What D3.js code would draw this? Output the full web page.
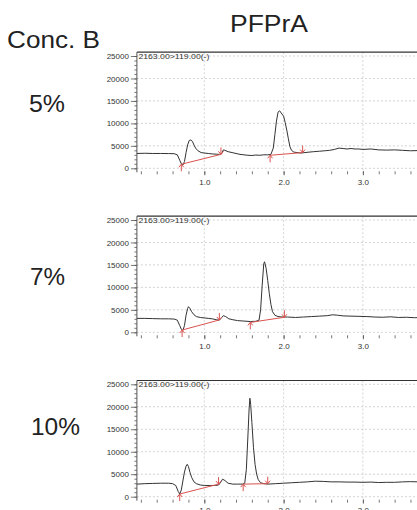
<!DOCTYPE html>
<html>
<head>
<meta charset="utf-8">
<script src="https://cdn.jsdelivr.net/npm/d3@7"></script>
<style>
  body { margin: 0; background: #fff; }
  svg { display: block; }
  text { font-family: "Liberation Sans", Arial, sans-serif; }
</style>
</head>
<body>
<div id="chart"></div>
<script>
// =============================
// DATA
// =============================
const concLabels = ["5%", "7%", "10%"];
const channelLabel = "2163.00>119.00(-)";
const yTicks = [0, 5000, 10000, 15000, 20000, 25000];
const xTicks = [1.0, 2.0, 3.0];

// 5%
const time5 = [0.15,0.25,0.35,0.45,0.55,0.62,0.66,0.69,0.71,0.73,0.75,0.77,0.79,0.81,0.83,0.85,0.87,0.89,0.92,0.96,
  1.00,1.05,1.10,1.15,1.19,1.22,1.24,1.26,1.30,1.35,1.40,1.45,1.50,1.55,1.60,1.65,1.70,1.75,1.80,1.84,
  1.87,1.89,1.91,1.93,1.95,1.97,2.00,2.02,2.04,2.06,2.08,2.10,2.13,2.17,2.22,2.27,2.32,2.38,2.45,2.52,
  2.58,2.64,2.70,2.75,2.80,2.85,2.90,2.95,3.00,3.10,3.20,3.30,3.40,3.50,3.60,3.70,3.75];
const signal5 = [3300,3350,3300,3300,3280,3250,3000,1800,1000,700,1500,3500,5200,6200,6300,6000,5200,4500,3900,3500,
  3400,3300,3200,3150,3100,3300,4100,4000,3700,3500,3300,3100,3000,2900,2850,2950,2900,3000,3000,3100,
  4500,7500,10500,12500,12800,12300,11600,10200,8500,6600,4800,4000,3600,3500,3400,3500,3600,3700,3800,3900,
  4000,4200,4500,4400,4300,4400,4300,4300,4200,4300,4100,4050,4100,4000,3900,3950,3900];
const base5 = [[0.71, 900, 1.21, 3100], [1.83, 2900, 2.24, 3500]];

// 7%
const time7 = [0.15,0.25,0.35,0.45,0.55,0.62,0.66,0.69,0.71,0.73,0.75,0.77,0.79,0.80,0.82,0.84,0.87,0.90,0.95,
  1.00,1.05,1.10,1.15,1.19,1.22,1.24,1.27,1.31,1.36,1.42,1.50,1.58,1.65,1.69,1.71,1.73,1.75,1.76,1.78,
  1.80,1.82,1.84,1.86,1.89,1.93,1.98,2.05,2.15,2.25,2.35,2.45,2.55,2.62,2.68,2.75,2.85,2.95,3.05,3.15,
  3.25,3.35,3.45,3.55,3.65,3.75];
const signal7 = [3100,3100,3050,3000,3000,2950,2700,1500,700,400,1500,3800,5300,5700,5300,4600,3900,3500,3300,
  3200,3100,3000,2800,2700,3300,3700,3500,3000,2800,2600,2500,2400,2450,2700,5000,10500,15300,15700,14200,
  11500,8600,6200,4600,3800,3500,3400,3400,3300,3400,3500,3600,3700,3900,3800,3650,3600,3550,3500,3400,
  3350,3450,3300,3350,3250,3300];
const base7 = [[0.72, 500, 1.19, 2750], [1.58, 2200, 2.01, 3350]];

// 10%
const time10 = [0.15,0.25,0.35,0.45,0.55,0.60,0.64,0.67,0.69,0.71,0.73,0.75,0.77,0.785,0.80,0.82,0.84,0.87,0.90,0.95,
  1.00,1.07,1.14,1.18,1.21,1.23,1.26,1.30,1.36,1.42,1.48,1.51,1.53,1.55,1.565,1.575,1.585,1.60,1.62,1.64,
  1.66,1.68,1.71,1.75,1.80,1.90,2.00,2.10,2.20,2.30,2.40,2.50,2.60,2.70,2.80,2.90,3.00,3.10,3.20,3.30,
  3.40,3.50,3.60,3.70,3.75];
const signal10 = [2800,2900,2950,3000,3000,2900,2500,1200,600,1500,3500,5500,6800,7200,6700,5400,4300,3300,2900,2600,
  2500,2500,2500,2600,3300,3900,3600,3000,2800,2800,2800,3000,6000,13500,19500,21900,20500,16500,11000,7200,
  5000,3800,3100,2900,2800,2900,3000,3100,3200,3300,3450,3400,3300,3300,3250,3250,3200,3250,3150,3200,
  3200,3300,3350,3300,3250];
const base10 = [[0.69, 600, 1.18, 2800], [1.49, 2800, 1.80, 2900]];

// =============================
// SETUP
// =============================
const width = 417;
const height = 510;
const red = "#d9534f";

const svg = d3.select("#chart")
  .append("svg")
  .attr("width", width)
  .attr("height", height);

const x = d3.scaleLinear().domain([0, 3]).range([125, 362.9]);
const xMin = 0.15;
const xLeft = x(xMin);

const panels = [
  { label: concLabels[0], lx: 29, ly: 112, lw: 36, y0: 168.3, y25: 56, t: time5, s: signal5, base: base5 },
  { label: concLabels[1], lx: 30, ly: 285, lw: 35, y0: 332.3, y25: 220, t: time7, s: signal7, base: base7 },
  { label: concLabels[2], lx: 31, ly: 435, lw: 49, y0: 496.7, y25: 384.3, t: time10, s: signal10, base: base10 }
];

// =============================
// HEADERS
// =============================
svg.append("text")
  .attr("x", 230).attr("y", 32)
  .attr("font-size", 24)
  .attr("textLength", 78).attr("lengthAdjust", "spacingAndGlyphs")
  .attr("fill", "#222")
  .text("PFPrA");

svg.append("text")
  .attr("x", 7).attr("y", 48)
  .attr("font-size", 23)
  .attr("textLength", 93).attr("lengthAdjust", "spacingAndGlyphs")
  .attr("fill", "#222")
  .text("Conc. B");

// =============================
// PANELS
// =============================
panels.forEach(p => {
  const y = d3.scaleLinear().domain([0, 25000]).range([p.y0, p.y25]);
  const top = p.y25 - 3.8;
  const g = svg.append("g");

  // conc label
  svg.append("text")
    .attr("x", p.lx).attr("y", p.ly)
    .attr("font-size", 23)
    .attr("textLength", p.lw).attr("lengthAdjust", "spacingAndGlyphs")
    .attr("fill", "#222")
    .text(p.label);

  // grid
  g.selectAll(".hgrid")
    .data(yTicks)
    .enter().append("line")
    .attr("x1", xLeft).attr("x2", width)
    .attr("y1", d => y(d)).attr("y2", d => y(d))
    .attr("stroke", "#c8c8c8").attr("stroke-width", 0.8)
    .attr("stroke-dasharray", "2,2");

  g.selectAll(".vgrid")
    .data(xTicks)
    .enter().append("line")
    .attr("x1", d => x(d)).attr("x2", d => x(d))
    .attr("y1", top).attr("y2", p.y0 + 3)
    .attr("stroke", "#c8c8c8").attr("stroke-width", 0.8)
    .attr("stroke-dasharray", "2,2");

  // frame
  g.append("line")
    .attr("x1", xLeft).attr("x2", width)
    .attr("y1", top).attr("y2", top)
    .attr("stroke", "#333").attr("stroke-width", 1.2);
  g.append("line")
    .attr("x1", xLeft).attr("x2", xLeft)
    .attr("y1", top).attr("y2", p.y0 + 4)
    .attr("stroke", "#555").attr("stroke-width", 1);

  // y axis
  const yMinor = g.append("g")
    .attr("transform", `translate(${xLeft},0)`)
    .call(d3.axisLeft(y).tickValues(d3.range(0, 25001, 1000)).tickSize(2.5).tickFormat(""));
  const yMajor = g.append("g")
    .attr("transform", `translate(${xLeft},0)`)
    .call(d3.axisLeft(y).tickValues(yTicks).tickSize(6).tickPadding(2).tickFormat(d3.format("d")));
  [yMinor, yMajor].forEach(a => {
    a.select(".domain").remove();
    a.selectAll("line").attr("stroke", "#555").attr("stroke-width", 0.8);
  });
  yMajor.selectAll("text")
    .attr("font-size", 8)
    .attr("font-family", "Liberation Sans, Arial, sans-serif")
    .attr("fill", "#333");

  // x axis
  const xMinor = g.append("g")
    .attr("transform", `translate(0,${p.y0 + 3})`)
    .call(d3.axisBottom(x).tickValues(d3.range(0.2, 3.8, 0.2)).tickSize(3).tickFormat(""));
  const xMajor = g.append("g")
    .attr("transform", `translate(0,${p.y0 + 3})`)
    .call(d3.axisBottom(x).tickValues(xTicks).tickSize(4).tickPadding(4).tickFormat(d3.format(".1f")));
  [xMinor, xMajor].forEach(a => {
    a.select(".domain").remove();
    a.selectAll("line").attr("stroke", "#555").attr("stroke-width", 0.8);
  });
  xMajor.selectAll("text")
    .attr("font-size", 8)
    .attr("font-family", "Liberation Sans, Arial, sans-serif")
    .attr("fill", "#333");

  // channel label
  g.append("text")
    .attr("x", xLeft + 1.5).attr("y", y(25000) + 3)
    .attr("font-size", 8)
    .attr("textLength", 71).attr("lengthAdjust", "spacingAndGlyphs")
    .attr("fill", "#333")
    .text(channelLabel);

  // trace
  const line = d3.line()
    .x((d, i) => x(p.t[i]))
    .y(d => y(d));
  g.append("path")
    .datum(p.s)
    .attr("d", line)
    .attr("fill", "none")
    .attr("stroke", "#333")
    .attr("stroke-width", 1);

  // integration baselines
  p.base.forEach(b => {
    const x1 = x(b[0]), y1 = y(b[1]), x2 = x(b[2]), y2 = y(b[3]);
    g.append("line")
      .attr("x1", x1).attr("y1", y1).attr("x2", x2).attr("y2", y2)
      .attr("stroke", red).attr("stroke-width", 1);
    // start marker (up arrow below)
    g.append("path")
      .attr("d", `M${x1},${y1 + 7}L${x1},${y1}M${x1 - 2.5},${y1 + 3}L${x1},${y1}L${x1 + 2.5},${y1 + 3}`)
      .attr("fill", "none").attr("stroke", red).attr("stroke-width", 1);
    // end marker (down arrow above)
    g.append("path")
      .attr("d", `M${x2},${y2 - 7}L${x2},${y2}M${x2 - 2.5},${y2 - 3}L${x2},${y2}L${x2 + 2.5},${y2 - 3}`)
      .attr("fill", "none").attr("stroke", red).attr("stroke-width", 1);
  });
});
</script>
</body>
</html>
